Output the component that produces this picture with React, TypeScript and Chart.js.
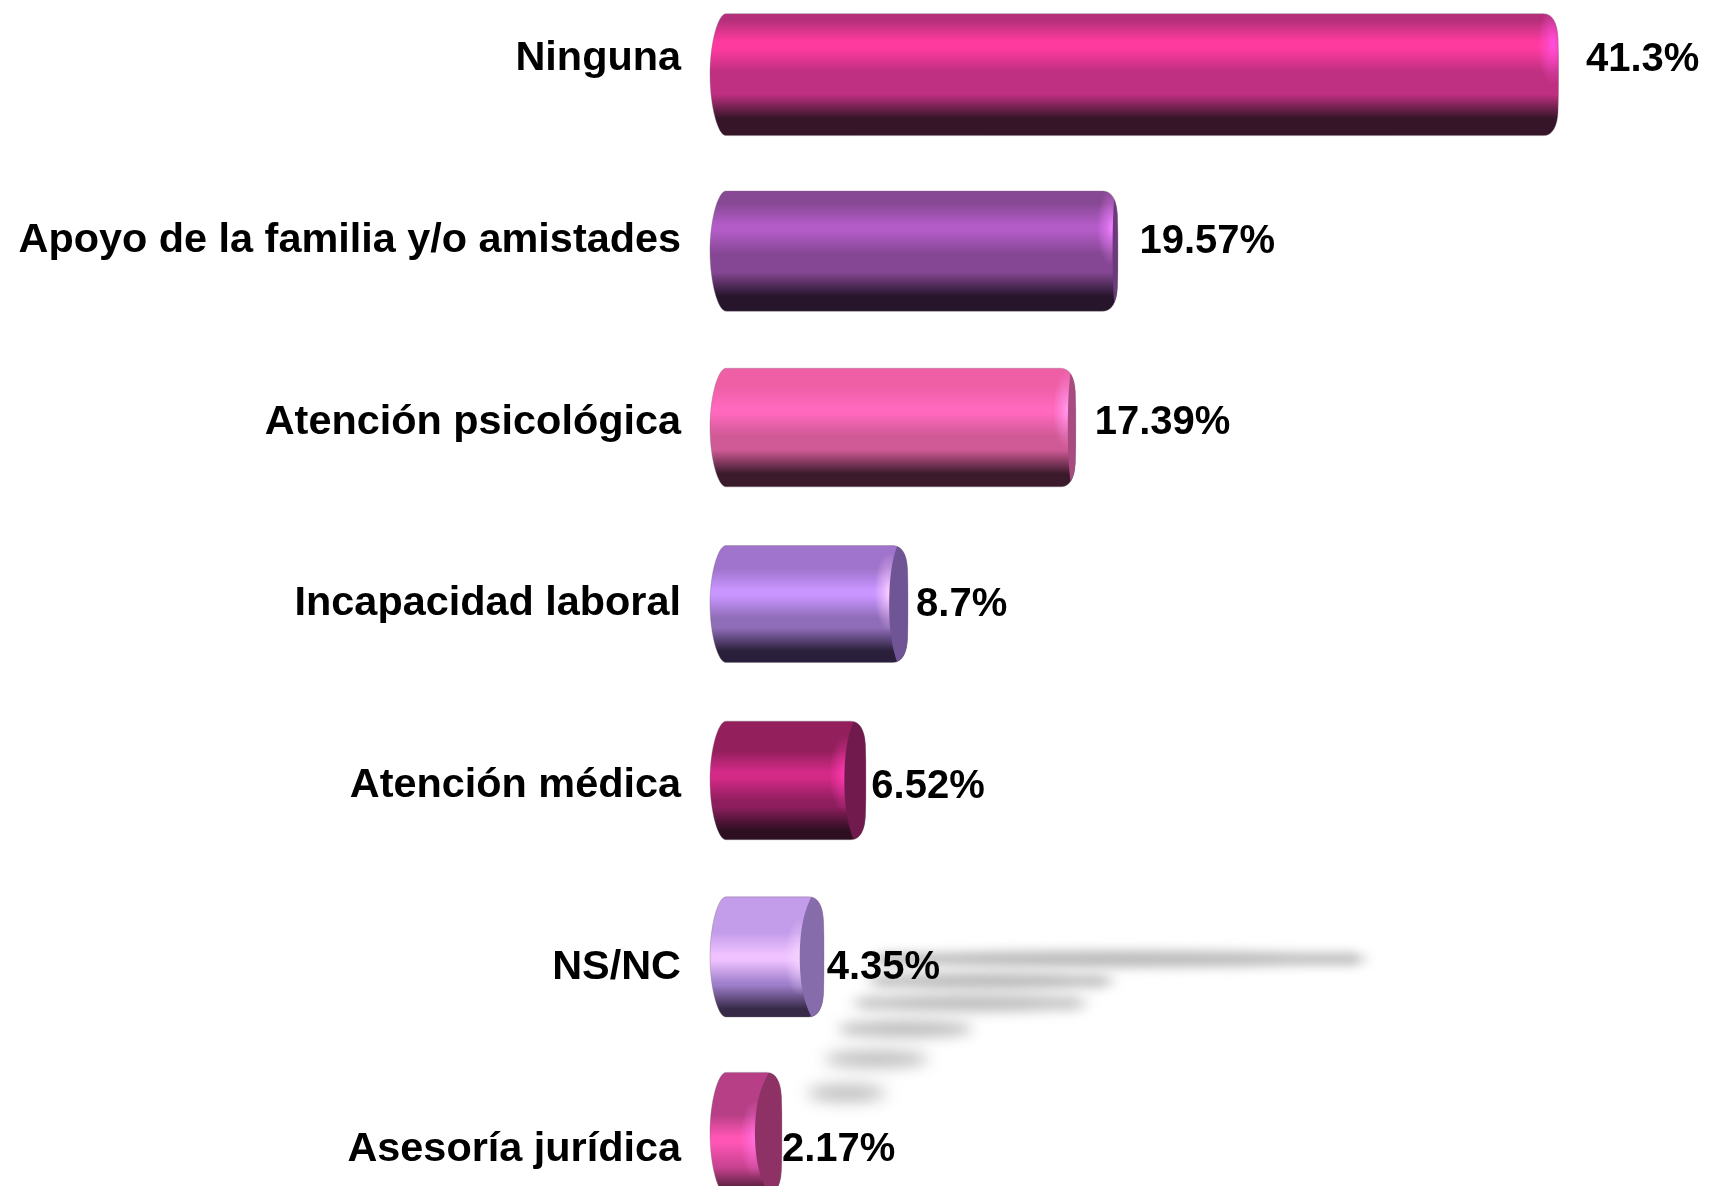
import React, { useEffect, useRef } from "react";
import { Chart, registerables } from "chart.js";

Chart.register(...registerables);

const categories = [
  "Ninguna",
  "Apoyo de la familia y/o amistades",
  "Atención psicológica",
  "Incapacidad laboral",
  "Atención médica",
  "NS/NC",
  "Asesoría jurídica",
];
const values = [41.3, 19.57, 17.39, 8.7, 6.52, 4.35, 2.17];
const valueLabels = ["41.3%", "19.57%", "17.39%", "8.7%", "6.52%", "4.35%", "2.17%"];

// styling only
const topColors = ["#b52f7a", "#874894", "#ee5fa6", "#a074cc", "#931f5c", "#c39cea", "#b63f85"];
const brightColors = ["#ff3a9e", "#b35cc8", "#ff68bd", "#c995ff", "#d42a87", "#efc2ff", "#ff55b5"];
const baseColors = ["#c03082", "#854793", "#d05a96", "#8f6db8", "#8f1e5e", "#a07fcc", "#c94391"];
const darkColors = ["#351527", "#26152b", "#3b1a2c", "#2a1f3a", "#2e0f22", "#362a48", "#5a2040"];
const capColors = ["#c03082", "#6b3a7b", "#a74b80", "#6f5596", "#701a4e", "#866cab", "#8e3265"];
const glowColors = ["#ff50e0", "#f080ff", "#ff9cf0", "#ffd0ff", "#ff38b0", "#f4d4ff", "#ff70e0"];

const TOP_SHIFT = 32;
const W = 1709;
const H = 1272;
const ZERO_X = 740;
const SLOPE = 19.31;
const LEFT_REACH = 30;
const FAMILY = '"Liberation Sans", Arial, sans-serif';

const shadowRows = [
  { y: 959, start: 875, k: 0.613 },
  { y: 981, start: 872, k: 0.63 },
  { y: 1003, start: 857, k: 0.673 },
  { y: 1029, start: 843, k: 0.738 },
  { y: 1059, start: 830, k: 0.738 },
  { y: 1093, start: 813, k: 0.798 },
];

const barGeom = (el: any) => {
  const cy = el.y - TOP_SHIFT;
  const d = cy - 604;
  const mid = 604 + d * 0.971 + TOP_SHIFT;
  const h = 117 + Math.abs(d) * 0.009;
  return { mid, h, top: mid - h / 2, bot: mid + h / 2, d };
};

const shadowPlugin = {
  id: "floorShadow",
  beforeDatasetsDraw(chart: any) {
    const { ctx } = chart;
    const els = chart.getDatasetMeta(0).data;
    ctx.save();
    shadowRows.forEach((r, i) => {
      const end = r.start + (els[i].x - ZERO_X) * r.k;
      ctx.filter = `blur(${5.5 + i * 0.5}px)`;
      ctx.fillStyle = "#bcbcbc";
      ctx.beginPath();
      ctx.ellipse((r.start + end) / 2, r.y + TOP_SHIFT, (end - r.start) / 2 + 6, 8.5, 0, 0, Math.PI * 2);
      ctx.rect(r.start + 6, r.y + TOP_SHIFT - 6, end - r.start - 12, 12);
      ctx.fill();
    });
    ctx.restore();
  },
};

const cylinderPlugin = {
  id: "cylinder",
  beforeDatasetDraw(chart: any) {
    const { ctx } = chart;
    const els = chart.getDatasetMeta(0).data;
    els.forEach((el: any, i: number) => {
      const { mid, h, top, bot, d } = barGeom(el);
      const px = el.x + Math.max(0, el.x - 1118) * 0.0502;
      const L = el.base - LEFT_REACH;
      const s = 15;
      const capW = Math.max(0, (1200 - px) * 0.0645);
      const outline = () => {
        ctx.beginPath();
        ctx.moveTo(L + 16, top);
        ctx.lineTo(px - s, top);
        ctx.bezierCurveTo(px - s * 0.4, top, px - 1, top + h * 0.08, px - 0.5, top + h * 0.2);
        ctx.bezierCurveTo(px, top + h * 0.3, px, mid - h * 0.1, px, mid);
        ctx.bezierCurveTo(px, mid + h * 0.1, px, bot - h * 0.3, px - 0.5, bot - h * 0.2);
        ctx.bezierCurveTo(px - 1, bot - h * 0.08, px - s * 0.4, bot, px - s, bot);
        ctx.lineTo(L + 16, bot);
        ctx.bezierCurveTo(L + 8, bot, L, mid + h * 0.26, L, mid);
        ctx.bezierCurveTo(L, mid - h * 0.26, L + 8, top, L + 16, top);
        ctx.closePath();
      };
      const b = 0.4 + d * 0.00027;
      const dk = 0.8 + (d + 545) * 0.00008;
      const g = ctx.createLinearGradient(0, top, 0, bot);
      g.addColorStop(0, topColors[i]);
      g.addColorStop(Math.max(0.03, b - 0.2), topColors[i]);
      g.addColorStop(b - 0.02, brightColors[i]);
      g.addColorStop(b + 0.03, brightColors[i]);
      g.addColorStop(b + 0.22, baseColors[i]);
      g.addColorStop(Math.max(b + 0.23, dk - 0.14), baseColors[i]);
      g.addColorStop(Math.max(b + 0.25, dk + 0.06), darkColors[i]);
      g.addColorStop(1, darkColors[i]);

      ctx.save();
      outline();
      ctx.fillStyle = g;
      ctx.fill();
      ctx.clip();

      // glow at the rim, on the body side
      const gx = px - Math.max(capW, 6);
      const gy = top + h * b;
      ctx.save();
      ctx.translate(gx, gy);
      ctx.scale(1, 2.6);
      const rg = ctx.createRadialGradient(0, 0, 0, 0, 0, 15);
      rg.addColorStop(0, glowColors[i]);
      rg.addColorStop(0.35, glowColors[i] + "88");
      rg.addColorStop(1, glowColors[i] + "00");
      ctx.fillStyle = rg;
      ctx.beginPath();
      ctx.arc(0, 0, 15, 0, Math.PI * 2);
      ctx.fill();
      ctx.restore();

      // end cap
      if (capW > 1) {
        const st = Math.min(12, capW * 0.55);
        const c1 = st + (capW - st) * 0.45;
        ctx.beginPath();
        ctx.moveTo(px - st, top - 1);
        ctx.bezierCurveTo(px - c1, top + h * 0.08, px - capW, mid - h * 0.28, px - capW, mid);
        ctx.bezierCurveTo(px - capW, mid + h * 0.28, px - c1, bot - h * 0.08, px - st, bot + 1);
        ctx.lineTo(px + 2, bot + 1);
        ctx.lineTo(px + 2, top - 1);
        ctx.closePath();
        ctx.fillStyle = capColors[i];
        ctx.fill();
      }
      ctx.restore();

      // thin pale edge
      outline();
      ctx.strokeStyle = "rgba(120,110,120,0.35)";
      ctx.lineWidth = 1;
      ctx.stroke();
    });
    return false;
  },
};

const valueLabelPlugin = {
  id: "valueLabels",
  afterDatasetsDraw(chart: any) {
    const { ctx } = chart;
    const els = chart.getDatasetMeta(0).data;
    ctx.save();
    ctx.font = `bold 40px ${FAMILY}`;
    ctx.fillStyle = "#000";
    ctx.textAlign = "left";
    ctx.textBaseline = "middle";
    els.forEach((el: any, i: number) => {
      ctx.fillText(valueLabels[i], el.x + (el.x - ZERO_X) * 0.0642 - 2.7, el.y + 1);
    });
    ctx.restore();
  },
};

export default function App() {
  const ref = useRef<HTMLCanvasElement | null>(null);
  useEffect(() => {
    const chart = new Chart(ref.current as HTMLCanvasElement, {
      type: "bar",
      data: {
        labels: categories,
        datasets: [{ data: values, backgroundColor: baseColors, barPercentage: 0.8, categoryPercentage: 0.8 }],
      },
      options: {
        indexAxis: "y",
        animation: false,
        responsive: false,
        devicePixelRatio: 1,
        layout: { padding: 0 },
        plugins: { legend: { display: false }, tooltip: { enabled: false }, title: { display: false } },
        scales: {
          x: {
            display: false,
            min: 0,
            max: (W - ZERO_X) / SLOPE,
          },
          y: {
            afterFit(scale: any) {
              scale.width = ZERO_X;
              scale.paddingTop = 0;
              scale.paddingBottom = 0;
            },
            grid: { display: false, drawTicks: false },
            border: { display: false },
            ticks: {
              color: "#000",
              padding: 59,
              autoSkip: false,
              font: { family: FAMILY, size: 41.4, weight: "bold" },
            },
          },
        },
      },
      plugins: [shadowPlugin, cylinderPlugin, valueLabelPlugin],
    } as any);
    return () => chart.destroy();
  }, []);
  return (
    <div style={{ position: "fixed", left: 0, top: 0, width: W, height: 1186, overflow: "hidden", background: "#fff" }}>
      <canvas
        ref={ref}
        width={W}
        height={H}
        style={{ position: "absolute", left: 0, top: -TOP_SHIFT, width: W, height: H, display: "block" }}
      />
    </div>
  );
}
